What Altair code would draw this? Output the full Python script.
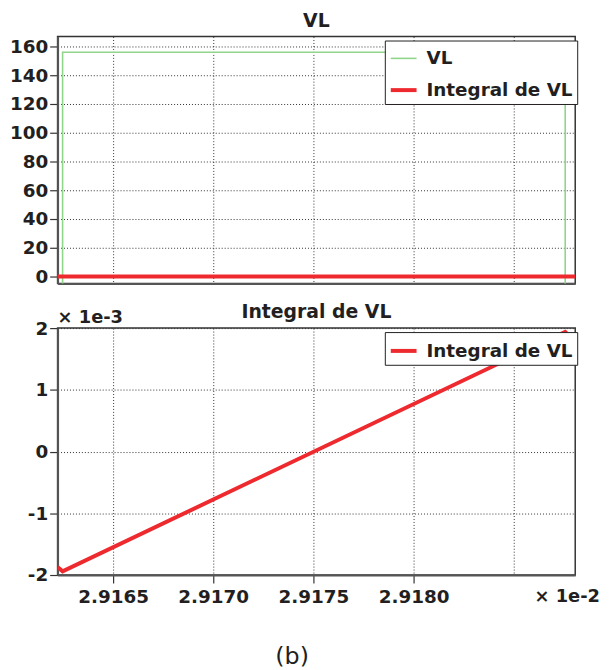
import altair as alt
import pandas as pd

# ---- data (x in units of 1e-2 s) ----
t_vl = [2.91618, 2.916248, 2.916248, 2.918757, 2.918757, 2.91885]
vl = [-155, -155, 156, 156, -155, -155]

t_int = [2.916223, 2.916248, 2.918757, 2.918830]
integral_e3 = [-1.87, -1.94, 1.94, 1.70]  # units of 1e-3

x_ticks = [2.9165, 2.9170, 2.9175, 2.9180, 2.9185]
y_top_ticks = [0, 20, 40, 60, 80, 100, 120, 140, 160]
y_bot_ticks = [-2, -1, 0, 1, 2]

series = ["VL", "Integral de VL"]
colors = ["#8fd68a", "#ee2a2f"]
widths = [1.6, 4]

FONT = "DejaVu Sans"
INK = "#231f20"
W, H = 522, 249
x_dom = [2.916223, 2.918807]

df_top = pd.concat([
    pd.DataFrame({"t": t_vl, "v": vl, "serie": "VL", "o": range(len(t_vl))}),
    pd.DataFrame({"t": t_int, "v": [v * 1e-3 for v in integral_e3],
                  "serie": "Integral de VL", "o": range(len(t_int))}),
])
df_bot = pd.DataFrame({"t": t_int, "v": integral_e3, "serie": "Integral de VL",
                       "o": range(len(t_int))})

legend_kw = dict(
    title=None, orient="none", legendX=330, legendY=4,
    strokeColor=INK, fillColor="white", padding=4,
    labelFont=FONT, labelFontSize=18.5, labelFontWeight="bold",
    labelColor=INK, symbolType="stroke", symbolSize=676,
    labelOffset=8, rowPadding=7, cornerRadius=0,
)

grid_kw = dict(grid=True, gridDash=[1, 2], gridColor="#333", gridWidth=1)

top = alt.Chart(df_top).mark_line(clip=True).encode(
    x=alt.X("t:Q", scale=alt.Scale(domain=x_dom, nice=False, zero=False),
            axis=alt.Axis(values=x_ticks, labels=False, ticks=False, title=None, **grid_kw)),
    y=alt.Y("v:Q", scale=alt.Scale(domain=[-4.8, 166.9], nice=False),
            axis=alt.Axis(values=y_top_ticks, title=None, **grid_kw)),
    color=alt.Color("serie:N", scale=alt.Scale(domain=series, range=colors),
                    legend=alt.Legend(**legend_kw)),
    strokeWidth=alt.StrokeWidth("serie:N", scale=alt.Scale(type="ordinal", domain=series, range=widths),
                                legend=alt.Legend(**legend_kw)),
    order="o:Q",
).properties(width=W, height=H, title=alt.TitleParams("VL", offset=6))

bot_line = alt.Chart(df_bot).mark_line(clip=True).encode(
    x=alt.X("t:Q", scale=alt.Scale(domain=x_dom, nice=False, zero=False),
            axis=alt.Axis(values=x_ticks, title="(b)", labelPadding=5,
                          labelExpr="datum.value > 2.91845 ? '' : format(datum.value, '.4f')",
                          tickOpacity={"condition": {"test": "datum.value > 2.91845", "value": 0}, "value": 1},
                          titleFont=FONT, titleFontWeight="normal", titleFontSize=24,
                          titleColor=INK, titleX=236, titleY=89,
                          titleBaseline="alphabetic", titleAlign="center",
                          **grid_kw)),
    y=alt.Y("v:Q", scale=alt.Scale(domain=[-2, 2], nice=False),
            axis=alt.Axis(values=y_bot_ticks, title=None,
                          labelExpr="'' + datum.value", **grid_kw)),
    color=alt.Color("serie:N", scale=alt.Scale(domain=["Integral de VL"], range=["#ee2a2f"]),
                    legend=alt.Legend(**legend_kw)),
    strokeWidth=alt.StrokeWidth("serie:N", scale=alt.Scale(type="ordinal", domain=["Integral de VL"], range=[4]),
                                legend=alt.Legend(**legend_kw)),
    order="o:Q",
)

txt_kw = dict(font=FONT, fontWeight="bold", fontSize=18, color=INK)
mult_y = alt.Chart(pd.DataFrame({"s": ["× 1e-3"]})).mark_text(
    align="left", baseline="alphabetic", **txt_kw
).encode(text="s:N", x=alt.value(0), y=alt.value(-5))
mult_x = alt.Chart(pd.DataFrame({"s": ["× 1e-2"]})).mark_text(
    align="right", baseline="alphabetic", **txt_kw
).encode(text="s:N", x=alt.value(547), y=alt.value(27 + H))

bot = alt.layer(bot_line, mult_y, mult_x).properties(
    width=W, height=H, title=alt.TitleParams("Integral de VL", offset=-13))

chart = alt.vconcat(top, bot, spacing=15).resolve_scale(
    color="independent", strokeWidth="independent"
).resolve_legend(color="independent", strokeWidth="independent").properties(
    padding={"left": 0, "top": 0, "right": 0, "bottom": 0}, background="white"
).configure_view(stroke="#333", strokeWidth=1.5).configure_axis(
    labelFont=FONT, labelFontSize=18.5, labelFontWeight="bold", labelColor=INK,
    tickColor="#333", tickSize=8, tickWidth=1.2, labelPadding=2,
    domainColor="#555", domainWidth=2,
).configure_title(
    font=FONT, fontSize=19, fontWeight="bold", color=INK
)

chart.save("out.html", embed_options={"renderer": "svg", "actions": False})
